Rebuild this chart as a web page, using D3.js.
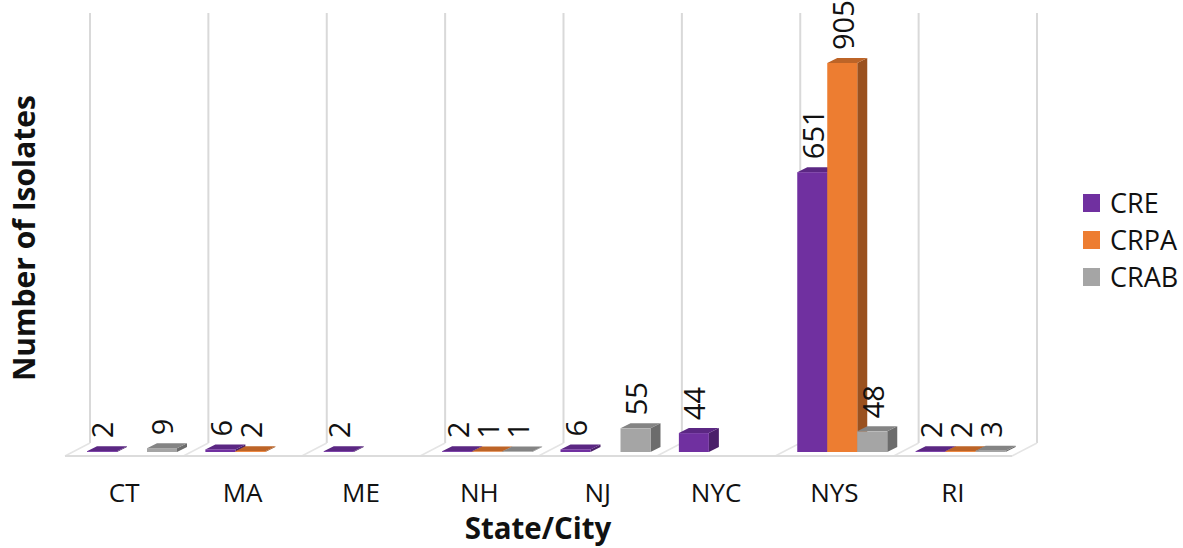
<!DOCTYPE html>
<html>
<head>
<meta charset="utf-8">
<script src="https://cdn.jsdelivr.net/npm/d3@7/dist/d3.min.js"></script>
<style>
  html, body { margin: 0; padding: 0; background: #fff; }
  text { font-family: "Open Sans", sans-serif; fill: #111; }
  svg { display: block; }
</style>
</head>
<body>
<svg class="chart" width="1183" height="548"></svg>
<script>
// Values, null = no bar drawn
const categories = ["CT", "MA", "ME", "NH", "NJ", "NYC", "NYS", "RI"];
const seriesNames = ["CRE", "CRPA", "CRAB"];
const cre = [2, 6, 2, 2, 6, 44, 651, 2];
const crpa = [null, 2, null, 1, null, null, 905, 2];
const crab = [9, null, null, 1, 55, null, 48, 3];
const seriesValues = [cre, crpa, crab];

// front, top, side shades
const colors = {
  CRE: ["#7030a0", "#5b2783", "#4a2069"],
  CRPA: ["#ed7d31", "#bd6427", "#9a511f"],
  CRAB: ["#a5a5a5", "#848484", "#6c6c6c"]
};

const svg = d3.select(".chart");

const depthX = 10, depthY = 5;   // depth of the 3d bars
const wallX = 25, wallY = 13;    // floor skew

const x = d3.scaleBand().domain(categories).range([65, 1012]);
const xInner = d3.scaleBand().domain(seriesNames).range([22, 112]);
const y = d3.scaleLinear().domain([0, 905]).range([452, 63]);

// Back wall lines
const wallXs = categories.map(d => x(d)).concat([1012]);
svg.selectAll(".wall")
  .data(wallXs)
  .enter()
  .append("line")
  .attr("class", "wall")
  .attr("x1", d => d + wallX)
  .attr("x2", d => d + wallX)
  .attr("y1", 13)
  .attr("y2", 456 - wallY)
  .attr("stroke", "#d9d9d9")
  .attr("stroke-width", 2);

// Floor
svg.selectAll(".floor-skew")
  .data(wallXs)
  .enter()
  .append("line")
  .attr("class", "floor-skew")
  .attr("x1", d => d)
  .attr("x2", d => d + wallX)
  .attr("y1", 456)
  .attr("y2", 456 - wallY)
  .attr("stroke", "#e4e4e4")
  .attr("stroke-width", 1.5);

svg.append("line")
  .attr("x1", 65)
  .attr("x2", 1012)
  .attr("y1", 456)
  .attr("y2", 456)
  .attr("stroke", "#dcdcdc")
  .attr("stroke-width", 2);

// Flatten to one row per bar
const bars = [];
categories.forEach((c, i) => {
  seriesNames.forEach((s, j) => {
    const v = seriesValues[j][i];
    if (v !== null) bars.push({ category: c, series: s, value: v });
  });
});

const barG = svg.selectAll(".bar")
  .data(bars)
  .enter()
  .append("g")
  .attr("class", "bar")
  .attr("transform", d => `translate(${x(d.category) + xInner(d.series)},0)`);

const w = xInner.bandwidth();

// Side face
barG.append("path")
  .attr("fill", d => colors[d.series][2])
  .attr("d", d => `M${w},${y(d.value)}L${w + depthX},${y(d.value) - depthY}L${w + depthX},${y(0) - depthY}L${w},${y(0)}Z`);

// Top face
barG.append("path")
  .attr("fill", d => colors[d.series][1])
  .attr("d", d => `M0,${y(d.value)}L${depthX},${y(d.value) - depthY}L${w + depthX},${y(d.value) - depthY}L${w},${y(d.value)}Z`);

// Front face
barG.append("rect")
  .attr("x", 0)
  .attr("y", d => y(d.value))
  .attr("width", w)
  .attr("height", d => y(0) - y(d.value))
  .attr("fill", d => colors[d.series][0]);

// Data labels
svg.selectAll(".value-label")
  .data(bars)
  .enter()
  .append("text")
  .attr("class", "value-label")
  .attr("transform", d => {
    const lx = x(d.category) + xInner(d.series) + w / 2 + 1;
    const ly = y(d.value) - depthY - 8;
    return `translate(${lx},${ly}) rotate(-90)`;
  })
  .attr("dy", "0.36em")
  .style("font-size", "29px")
  .text(d => d.value);

// Category axis
const xAxis = svg.append("g")
  .attr("transform", "translate(0,456)")
  .call(d3.axisBottom(x).tickSize(0).tickPadding(28));
xAxis.select(".domain").remove();
xAxis.selectAll("text")
  .style("font-family", '"Open Sans", sans-serif')
  .style("font-size", "26px");

// Axis titles
svg.append("text")
  .attr("x", 538)
  .attr("y", 539)
  .style("text-anchor", "middle")
  .style("font-weight", 700)
  .style("font-size", "29.5px")
  .text("State/City");

svg.append("text")
  .attr("transform", "translate(35,238) rotate(-90)")
  .style("text-anchor", "middle")
  .style("font-weight", 700)
  .style("font-size", "30px")
  .text("Number of Isolates");

// Legend
const legendY = d3.scalePoint().domain(seriesNames).range([203, 277]);

svg.selectAll(".legend-box")
  .data(seriesNames)
  .enter()
  .append("rect")
  .attr("class", "legend-box")
  .attr("x", 1083)
  .attr("y", d => legendY(d) - 9)
  .attr("width", 17)
  .attr("height", 18)
  .attr("fill", d => colors[d][0]);

svg.selectAll(".legend-text")
  .data(seriesNames)
  .enter()
  .append("text")
  .attr("class", "legend-text")
  .attr("x", 1110)
  .attr("y", d => legendY(d))
  .attr("dy", "0.36em")
  .style("font-size", "27px")
  .text(d => d);
</script>
</body>
</html>
